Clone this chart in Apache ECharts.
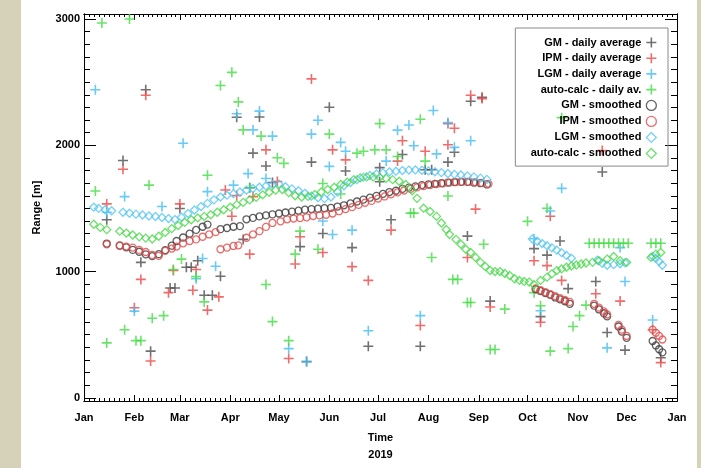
<!DOCTYPE html>
<html>
<head>
<meta charset="utf-8">
<script src="https://cdn.jsdelivr.net/npm/echarts@6/dist/echarts.min.js"></script>
<style>
  html, body { margin: 0; padding: 0; }
  body { width: 701px; height: 468px; background: #d6d2b9; position: relative; overflow: hidden; }
  #page { position: absolute; left: 21px; top: 0; width: 676px; height: 468px; background: #ffffff; }
  #chart { position: absolute; left: 0; top: 0; width: 701px; height: 468px; }
</style>
</head>
<body>
<div id="page"></div>
<div id="chart"></div>
<script>
// x = day of year 2019 (0 = 1 Jan), y = range in metres
var monthStarts = [0, 31, 59, 90, 120, 151, 181, 212, 243, 273, 304, 334, 365];
var monthNames = ['Jan', 'Feb', 'Mar', 'Apr', 'May', 'Jun', 'Jul', 'Aug', 'Sep', 'Oct', 'Nov', 'Dec', 'Jan'];
var yTicks = [0, 1000, 2000, 3000];
var seriesNames = [
  'GM - daily average', 'IPM - daily average', 'LGM - daily average', 'auto-calc - daily av.',
  'GM - smoothed', 'IPM - smoothed', 'LGM - smoothed', 'auto-calc - smoothed'
];

var gmDaily = [
  [14,1411],[24,1880],[35,1073],[38,2440],[41,370],[53,870],[56,870],[59,1500],[63,1034],[66,1034],
  [70,1086],[74,813],[79,813],[84,963],[94,2222],[98,1255],[102,1664],[104,1938],[108,2224],[112,1836],
  [116,1706],[133,1198],[137,287],[140,1867],[147,1302],[151,2302],[161,1797],[165,1190],[175,409],[182,1823],
  [182,1711],[189,1411],[196,1927],[207,409],[210,1807],[214,1807],[224,1867],[228,1945],[236,1281],[238,2349],
  [245,2380],[250,766],[277,1182],[281,643],[285,1130],[293,1242],[298,865],[315,922],[319,1789],[322,518],
  [333,378],[355,318]
];
var ipmDaily = [
  [14,1536],[24,1810],[31,713],[35,938],[38,2396],[41,292],[52,833],[55,1008],[59,1536],[67,852],
  [69,1016],[76,695],[83,800],[87,1646],[91,1438],[94,1602],[102,1138],[104,1594],[112,1964],[119,1714],
  [126,312],[130,1060],[133,1276],[140,2526],[147,1151],[153,1964],[161,1885],[165,1039],[175,930],[189,1328],
  [193,1875],[196,2036],[207,573],[210,1953],[224,2172],[228,2135],[224,2005],[236,1112],[238,2396],[241,1495],
  [245,2370],[250,719],[277,1086],[281,599],[285,1047],[287,1438],[294,930],[315,825],[319,1958],[330,766],
  [350,539],[355,279]
];
var lgmDaily = [
  [7,2440],[14,1470],[25,1594],[31,687],[48,1516],[61,2016],[69,943],[73,1104],[76,1633],[81,1042],
  [92,1685],[94,2250],[101,1776],[104,2122],[108,2271],[112,1737],[116,2073],[126,390],[137,287],[140,2089],
  [144,2198],[147,1400],[151,1833],[153,1294],[158,2023],[161,1953],[165,1328],[175,531],[186,1875],[193,2120],
  [200,2161],[203,1997],[207,651],[215,2276],[217,1932],[224,2180],[228,1984],[238,2036],[277,1260],[281,690],
  [287,1480],[294,1659],[322,396],[330,1190],[333,922],[350,617]
];
var acDaily = [
  [7,1638],[11,2969],[14,435],[25,539],[28,3000],[32,453],[35,453],[40,1685],[42,630],[49,651],
  [55,1016],[60,1099],[69,960],[74,760],[76,1763],[84,2474],[91,2578],[95,2344],[98,2122],[102,1664],
  [109,2073],[112,898],[116,604],[119,1901],[123,1857],[126,453],[130,1138],[133,1320],[144,1177],[147,1698],
  [151,2089],[158,1615],[168,1938],[172,1953],[179,1964],[182,2172],[186,1964],[193,1911],[201,1463],[203,1463],
  [207,2206],[210,1875],[214,1112],[224,1599],[227,938],[230,938],[236,755],[238,755],[246,1216],[250,383],
  [253,383],[259,703],[273,1398],[277,833],[281,729],[285,1502],[287,370],[294,2219],[298,390],[301,565],
  [305,651],[309,734],[311,1224],[314,1224],[317,1224],[320,1224],[323,1224],[326,1224],[329,1224],[332,1224],
  [335,1224],[349,1224],[352,1224],[355,1224]
];

var gmSmooth = [
  [14,1222],[22,1205],[26,1192],[30,1172],[34,1157],[38,1137],[42,1122],[46,1138],[50,1170],[54,1205],
  [57,1242],[61,1270],[65,1300],[69,1330],[73,1355],[76,1372],[84,1336],[88,1345],[92,1355],[96,1360],
  [100,1414],[104,1425],[108,1437],[112,1445],[116,1453],[120,1460],[124,1468],[128,1475],[132,1482],[136,1490],
  [140,1495],[144,1498],[148,1502],[152,1505],[156,1515],[160,1525],[164,1540],[168,1555],[172,1570],[176,1585],
  [180,1600],[184,1615],[188,1630],[192,1640],[196,1655],[200,1665],[204,1675],[208,1685],[212,1690],[216,1695],
  [220,1700],[224,1705],[228,1708],[232,1710],[236,1710],[240,1705],[244,1700],[248,1690],
  [278,860],[281,845],[284,830],[287,815],[290,795],[293,780],[296,765],[299,745],
  [314,730],[317,700],[320,670],[322,645],
  [329,565],[331,525],[334,475],
  [350,450],[352,415],[354,385],[356,360]
];
var ipmSmooth = [
  [14,1216],[22,1208],[26,1198],[30,1190],[34,1172],[38,1155],[42,1132],[46,1125],[50,1164],[54,1182],
  [57,1198],[61,1224],[65,1242],[69,1255],[73,1276],[77,1294],[81,1312],[84,1177],[88,1190],[92,1203],
  [95,1208],[100,1268],[104,1294],[108,1320],[112,1354],[116,1385],[121,1398],[125,1414],[129,1420],[133,1424],
  [137,1430],[141,1440],[145,1445],[149,1450],[153,1460],[157,1478],[161,1495],[165,1510],[169,1528],[173,1545],
  [177,1560],[181,1578],[185,1595],[189,1612],[193,1628],[197,1642],[201,1655],[205,1667],[209,1677],[213,1686],
  [217,1693],[221,1699],[225,1704],[229,1708],[233,1710],[237,1710],[241,1707],[245,1702],[249,1695],
  [278,867],[281,852],[284,838],[287,822],[290,805],[293,790],[296,775],[299,760],
  [314,745],[317,715],[320,685],[322,660],
  [329,578],[331,540],[334,490],
  [350,540],[352,515],[354,490],[356,462]
];
var lgmSmooth = [
  [6,1510],[9,1500],[13,1490],[17,1482],[24,1470],[28,1462],[32,1455],[36,1448],[40,1440],[44,1436],
  [48,1428],[52,1420],[56,1412],[60,1430],[64,1460],[68,1488],[72,1515],[76,1540],[80,1568],[84,1590],
  [88,1605],[92,1617],[96,1630],[100,1645],[104,1658],[108,1668],[112,1678],[116,1688],[120,1693],[124,1672],
  [128,1655],[132,1640],[136,1620],[140,1598],[144,1585],[148,1578],[152,1590],[156,1630],[160,1680],[164,1705],
  [168,1728],[172,1748],[176,1762],[180,1773],[184,1782],[188,1790],[192,1795],[196,1800],[200,1804],[204,1805],
  [208,1802],[212,1797],[216,1790],[220,1784],[224,1777],[228,1770],[232,1765],[236,1758],[240,1750],[244,1740],
  [248,1730],
  [276,1258],[279,1240],[282,1222],[285,1205],[288,1188],[291,1170],[294,1150],[297,1128],[300,1105],
  [316,1090],[319,1065],[322,1050],[326,1055],[330,1062],[333,1070],
  [350,1120],[352,1105],[354,1080],[356,1050]
];
var acSmooth = [
  [6,1375],[10,1350],[14,1332],
  [22,1320],[26,1305],[30,1290],[34,1275],[38,1265],[42,1258],[46,1280],[50,1310],[54,1340],[58,1365],[62,1390],
  [66,1410],[70,1425],[74,1437],[78,1450],[82,1470],[86,1490],[90,1510],[94,1530],[98,1548],[102,1568],
  [106,1588],[110,1608],[114,1628],[118,1645],[122,1650],[126,1625],[130,1600],[134,1590],[138,1595],[142,1610],
  [146,1630],[150,1650],[154,1668],[158,1690],[162,1708],[166,1728],[170,1742],[174,1750],[178,1750],[182,1746],
  [186,1738],[190,1728],[194,1715],[198,1690],[202,1640],[205,1580],[209,1502],[213,1476],[217,1437],[220,1385],
  [223,1333],[225,1294],[229,1255],[232,1216],[235,1177],[238,1151],[241,1112],[244,1073],[247,1040],[250,1008],
  [253,1000],[256,1000],[259,985],[262,969],[265,943],[268,930],[271,922],[274,917],[277,896],[281,930],
  [285,956],[288,982],[291,1008],[294,1021],[297,1034],[300,1044],[303,1052],[306,1060],[309,1068],[313,1073],
  [317,1086],[322,1099],[326,1120],[330,1086],[334,1073],
  [349,1112],[352,1138],[355,1151]
];

var FONT = 'Liberation Sans';
var PLUS = 'path://M4.2,0H5.8V4.2H10V5.8H5.8V10H4.2V5.8H0V4.2H4.2Z';
var colors = ['#4d4d4d', '#ec4646', '#45bdf5', '#45dc45', '#3a3a3a', '#e24a4a', '#55c6f2', '#48d848'];
var symbols = [PLUS, PLUS, PLUS, PLUS, 'circle', 'circle', 'diamond', 'diamond'];
var seriesData = [gmDaily, ipmDaily, lgmDaily, acDaily, gmSmooth, ipmSmooth, lgmSmooth, acSmooth];

// minor tick positions: 10 per month on x, every 100 m on y
var xMinor = [];
for (var m = 0; m < 12; m++) {
  var len = monthStarts[m + 1] - monthStarts[m];
  for (var k = 1; k < 10; k++) xMinor.push(monthStarts[m] + len * k / 10);
}
var yMinor = [];
for (var v = 0; v <= 3000; v += 100) if (v % 1000 !== 0) yMinor.push(v);

var lineStyle = { color: '#000', width: 1 };

function xAxis(pos, ticks, len, labels, extra) {
  return Object.assign({
    type: 'value', min: 0, max: 365, position: pos, gridIndex: 0,
    axisLine: { show: true, onZero: false, lineStyle: lineStyle },
    axisTick: { show: true, inside: true, length: len, customValues: ticks, lineStyle: lineStyle },
    axisLabel: labels ? {
      customValues: monthStarts, margin: 11, color: '#000',
      fontFamily: FONT, fontWeight: 'bold', fontSize: 11,
      formatter: function (val) { return monthNames[monthStarts.indexOf(val)]; }
    } : { show: false },
    splitLine: { show: false }
  }, extra || {});
}

function yAxis(pos, ticks, len, labels, extra) {
  return Object.assign({
    type: 'value', min: -25, max: 3040, position: pos, gridIndex: 0,
    axisLine: { show: true, onZero: false, lineStyle: lineStyle },
    axisTick: { show: true, inside: true, length: len, customValues: ticks, lineStyle: lineStyle },
    axisLabel: labels ? {
      customValues: yTicks, margin: 4, color: '#000',
      fontFamily: FONT, fontWeight: 'bold', fontSize: 11,
      formatter: function (val) { return String(val); }
    } : { show: false },
    splitLine: { show: false }
  }, extra || {});
}

var series = seriesData.map(function (d, i) {
  var hollow = i >= 4;
  return {
    name: seriesNames[i],
    type: 'scatter',
    xAxisIndex: 0,
    yAxisIndex: 0,
    data: d,
    symbol: symbols[i],
    symbolSize: hollow ? (symbols[i] === 'diamond' ? 8 : 7) : 10,
    itemStyle: hollow
      ? { color: 'rgba(255,255,255,0)', borderColor: colors[i], borderWidth: 1.3 }
      : { color: colors[i] },
    emphasis: { disabled: true }
  };
});

var chart = echarts.init(document.getElementById('chart'), null, { renderer: 'canvas' });
chart.setOption({
  animation: false,
  backgroundColor: 'transparent',
  grid: { left: 84, right: 24, top: 14, bottom: 61, containLabel: false },
  xAxis: [
    xAxis('bottom', monthStarts, 6, true, {
      name: 'Time\n2019', nameLocation: 'middle', nameGap: 28,
      nameTextStyle: { fontFamily: FONT, fontWeight: 'bold', fontSize: 11, color: '#000', lineHeight: 17 }
    }),
    xAxis('bottom', xMinor, 3, false),
    xAxis('top', monthStarts, 6, false),
    xAxis('top', xMinor, 3, false)
  ],
  yAxis: [
    yAxis('left', yTicks, 12, true, {
      name: 'Range [m]', nameLocation: 'middle', nameGap: 42, nameRotate: 90,
      nameTextStyle: { fontFamily: FONT, fontWeight: 'bold', fontSize: 11, color: '#000' }
    }),
    yAxis('left', yMinor, 6, false),
    yAxis('right', yTicks, 12, false),
    yAxis('right', yMinor, 6, false)
  ],
  legend: {
    orient: 'vertical',
    right: 33,
    top: 28,
    align: 'right',
    itemWidth: 10,
    itemHeight: 10,
    itemGap: 4.7,
    padding: [9, 11, 7, 4],
    borderColor: '#8a8a8a',
    borderWidth: 1,
    backgroundColor: 'transparent',
    selectedMode: false,
    formatter: function (name) { return '{t|' + name + '}'; },
    textStyle: {
      rich: {
        t: { width: 122, align: 'right', fontFamily: FONT, fontWeight: 'bold', fontSize: 11, color: '#000', lineHeight: 12 }
      }
    },
    data: seriesNames.map(function (n, i) {
      var hollow = i >= 4;
      return {
        name: n,
        icon: symbols[i],
        itemStyle: hollow
          ? { color: 'rgba(255,255,255,0)', borderColor: colors[i], borderWidth: 1.3 }
          : { color: colors[i], borderWidth: 0 }
      };
    })
  },
  series: series
});
</script>
</body>
</html>
